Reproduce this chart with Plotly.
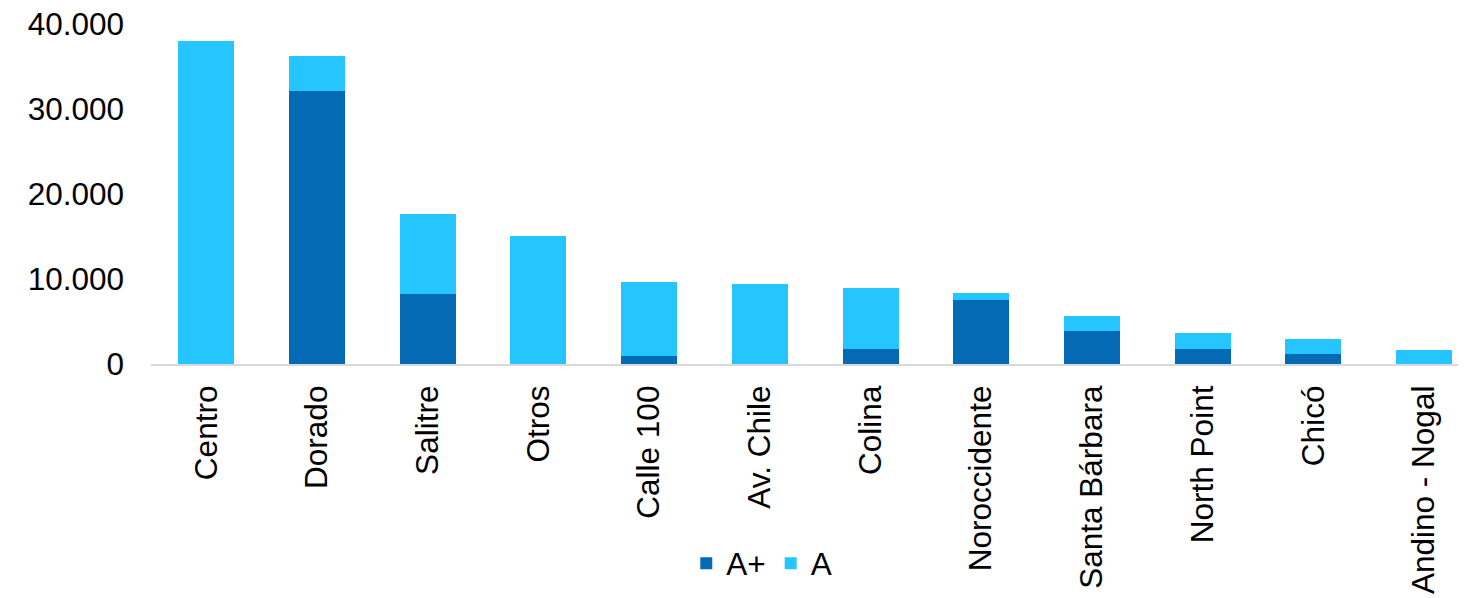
import plotly.graph_objects as go

categories = ["Centro", "Dorado", "Salitre", "Otros", "Calle 100", "Av. Chile",
              "Colina", "Noroccidente", "Santa Bárbara", "North Point", "Chicó",
              "Andino - Nogal"]
a_plus = [0, 32100, 8200, 0, 950, 0, 1750, 7550, 3850, 1800, 1150, 0]
a_vals = [38000, 4100, 9400, 15100, 8650, 9400, 7200, 850, 1750, 1850, 1850, 1650]
y_ticks = [0, 10000, 20000, 30000, 40000]

FONT = "Liberation Sans, Arial, sans-serif"
FS = 31.5

fig = go.Figure()
fig.add_trace(go.Bar(x=categories, y=a_plus, name="A+", marker_color="#046AB4",
                     marker_line_width=0))
fig.add_trace(go.Bar(x=categories, y=a_vals, name="A", marker_color="#25C5FF",
                     marker_line_width=0))

fig.update_layout(
    barmode="stack",
    bargap=0.494,
    width=1458, height=590,
    margin=dict(l=143, r=0, t=16, b=234, autoexpand=False),
    paper_bgcolor="white", plot_bgcolor="white",
    separators=",.",
    font=dict(family=FONT, size=FS, color="#000000"),
    showlegend=True,
    legend=dict(orientation="h", xref="container", yref="container",
                x=0.517, y=0.059, xanchor="center", yanchor="middle",
                font=dict(size=FS, family=FONT), itemwidth=30,
                traceorder="normal", bgcolor="rgba(0,0,0,0)"),
)
fig.update_xaxes(
    range=[-0.5, 11.379], tickangle=-90, showgrid=False, showline=True,
    linecolor="#D9D9D9", linewidth=2, ticks="", ticklabelstandoff=7,
    tickfont=dict(size=FS, family=FONT), automargin=False,
    ticklabeloverflow="allow",
)
fig.update_yaxes(
    range=[0, 40000], tickvals=y_ticks, tickformat=",d", showgrid=False,
    showline=False, zeroline=False, ticks="", ticklabelstandoff=26,
    tickfont=dict(size=FS, family=FONT), automargin=False,
    ticklabeloverflow="allow",
)

fig.write_html("out.html")
